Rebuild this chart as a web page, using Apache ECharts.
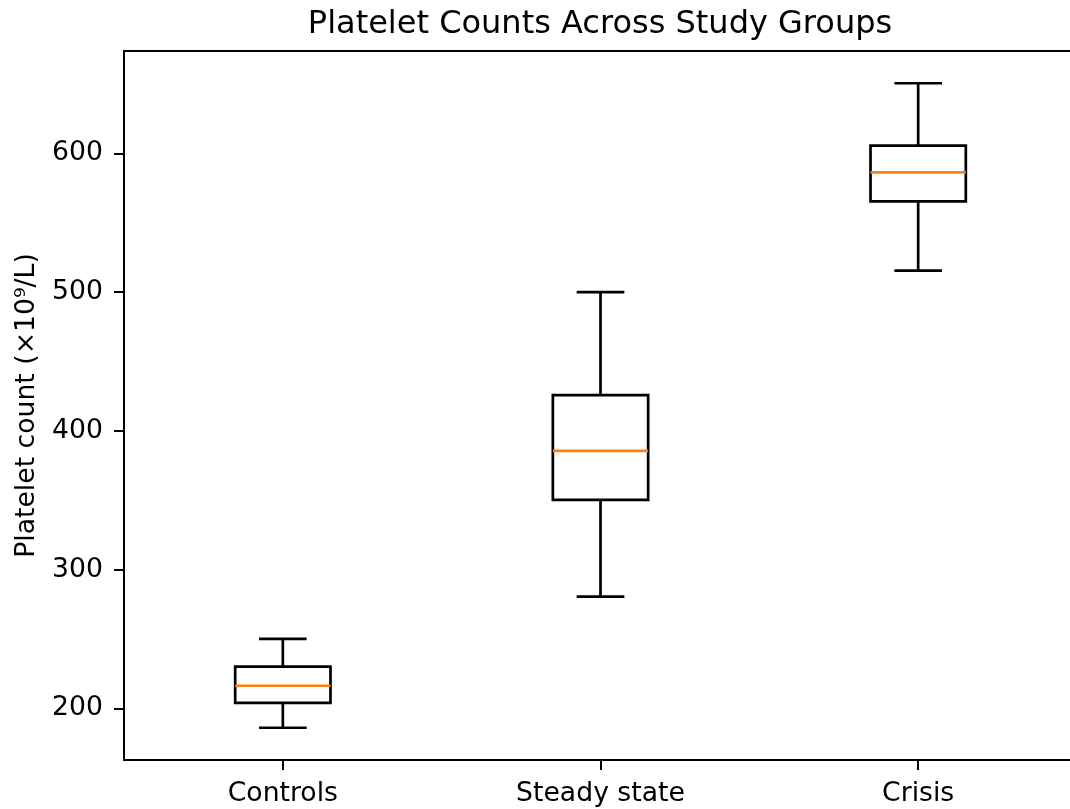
<!DOCTYPE html>
<html>
<head>
<meta charset="utf-8">
<script src="https://cdn.jsdelivr.net/npm/echarts@6/dist/echarts.min.js"></script>
<style>
html,body{margin:0;padding:0;background:#fff;overflow:hidden;width:1070px;height:809px;}
#chart{width:1078px;height:809px;}
</style>
</head>
<body>
<div id="chart"></div>
<script>
// ---- data ----
const categories = ['Controls', 'Steady state', 'Crisis'];
const whiskerLow = [186, 280.5, 515.5];
const q1Values   = [204, 350.3, 565.4];
const medians    = [216.3, 385.6, 586.3];
const q3Values   = [230, 425.7, 605.5];
const whiskerHigh= [250, 500, 650.5];
const yTicks = [200, 300, 400, 500, 600];

const FONT = 'DejaVu Sans';
const lo = Math.min.apply(null, whiskerLow);
const hi = Math.max.apply(null, whiskerHigh);
const pad = (hi - lo) * 0.05;

const boxData = categories.map((c, i) => [i, whiskerLow[i], q1Values[i], medians[i], q3Values[i], whiskerHigh[i]]);

const chart = echarts.init(document.getElementById('chart'), null, {renderer: 'canvas'});

function renderBox(params, api) {
  const idx = api.value(0);
  const band = api.size([1, 0])[0];
  const halfBox = band * 0.3 / 2;
  const halfCap = halfBox / 2;
  const pLow = api.coord([idx, api.value(1)]);
  const pQ1 = api.coord([idx, api.value(2)]);
  const pMed = api.coord([idx, api.value(3)]);
  const pQ3 = api.coord([idx, api.value(4)]);
  const pHigh = api.coord([idx, api.value(5)]);
  const x = pMed[0];
  const lw = 2.7;
  const blk = {stroke: '#000', lineWidth: lw, fill: null};
  return {
    type: 'group',
    children: [
      {type: 'line', shape: {x1: x, y1: pQ1[1], x2: x, y2: pLow[1]}, style: blk},
      {type: 'line', shape: {x1: x, y1: pQ3[1], x2: x, y2: pHigh[1]}, style: blk},
      {type: 'line', shape: {x1: x - halfCap, y1: pLow[1], x2: x + halfCap, y2: pLow[1]}, style: blk},
      {type: 'line', shape: {x1: x - halfCap, y1: pHigh[1], x2: x + halfCap, y2: pHigh[1]}, style: blk},
      {type: 'rect', shape: {x: x - halfBox, y: pQ3[1], width: halfBox * 2, height: pQ1[1] - pQ3[1]}, style: {stroke: '#000', lineWidth: lw, fill: 'rgba(0,0,0,0)'}},
      {type: 'line', shape: {x1: x - halfBox, y1: pMed[1], x2: x + halfBox, y2: pMed[1]}, style: {stroke: '#ff7f0e', lineWidth: lw}}
    ]
  };
}

chart.setOption({
  animation: false,
  backgroundColor: '#fff',
  title: {
    text: 'Platelet Counts Across Study Groups',
    left: 600,
    top: 9,
    textAlign: 'center',
    padding: 0,
    textStyle: {fontFamily: FONT, fontSize: 32, fontWeight: 'normal', color: '#000'}
  },
  grid: {
    left: 124, right: 1, top: 51, bottom: 49,
    show: true, borderColor: '#000', borderWidth: 2, backgroundColor: 'transparent',
    containLabel: false
  },
  xAxis: {
    type: 'category',
    data: categories,
    boundaryGap: true,
    axisLine: {show: true, lineStyle: {color: '#000', width: 2}},
    axisTick: {show: true, alignWithLabel: true, length: 10, lineStyle: {color: '#000', width: 2}},
    axisLabel: {fontFamily: FONT, fontSize: 26.67, color: '#000', margin: 21},
    splitLine: {show: false}
  },
  yAxis: {
    type: 'value',
    min: lo - pad,
    max: hi + pad,
    name: 'Platelet count (×10⁹/L)',
    nameLocation: 'middle',
    nameGap: 83,
    nameRotate: 90,
    nameTextStyle: {fontFamily: FONT, fontSize: 26.67, color: '#000'},
    axisLine: {show: true, lineStyle: {color: '#000', width: 2}},
    axisTick: {show: true, length: 10, customValues: yTicks, lineStyle: {color: '#000', width: 2}},
    axisLabel: {fontFamily: FONT, fontSize: 26.67, color: '#000', margin: 21, customValues: yTicks},
    splitLine: {show: false}
  },
  series: [{
    type: 'custom',
    renderItem: renderBox,
    data: boxData,
    encode: {x: 0, y: [1, 2, 3, 4, 5]},
    clip: false
  }]
});
</script>
</body>
</html>
